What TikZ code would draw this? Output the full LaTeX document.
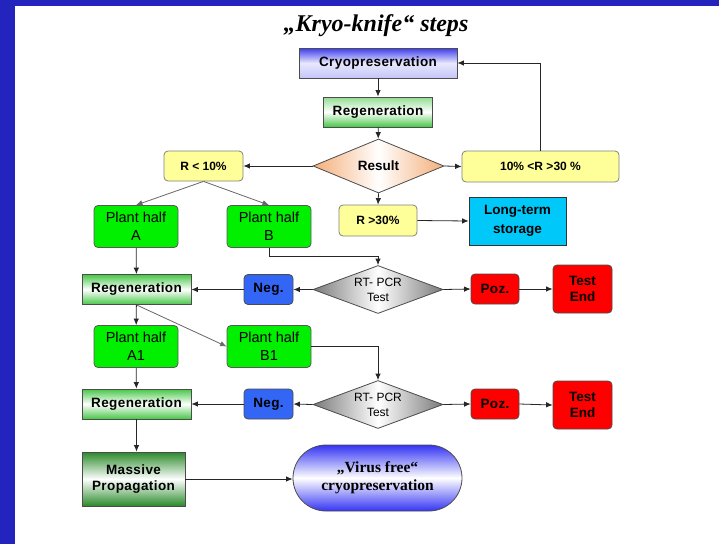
\documentclass[tikz,border=0pt]{standalone}
\usepackage{fontspec}
\setmainfont{Liberation Sans}
\newfontfamily\timesfont{Liberation Serif}
\usepackage{xcolor}
\definecolor{frameblue}{HTML}{2323BE}
\definecolor{cryoblue}{HTML}{3C3CEC}
\definecolor{regengreen}{HTML}{46C646}
\definecolor{massgreen}{HTML}{2A8A2A}
\definecolor{plantgreen}{HTML}{00F000}
\definecolor{ratioyellow}{HTML}{FFFF99}
\definecolor{resultorange}{HTML}{F4AE78}
\definecolor{storagecyan}{HTML}{00C8F8}
\definecolor{negblue}{HTML}{3366F5}
\definecolor{testgray}{HTML}{7A7A7A}
\definecolor{virusblue}{HTML}{3434F4}
\usepackage{tikz}
\usetikzlibrary{positioning, shapes.geometric, arrows.meta}

\tikzset{
  box/.style={draw=black!70, line width=0.8pt, inner sep=1pt, align=center,
    font=\bfseries\fontsize{13.5}{16}\selectfont\addfontfeature{LetterSpace=3}},
  roundbox/.style={box, rounded corners=4pt},
  regen/.style={box, top color=regengreen, bottom color=regengreen, middle color=white,
    minimum width=109pt, minimum height=30pt},
  plant/.style={roundbox, fill=plantgreen, draw=black!65,
    font=\fontsize{14.5}{18}\selectfont, minimum width=84pt, minimum height=42pt},
  ratio/.style={roundbox, fill=ratioyellow, draw=black!50,
    font=\bfseries\fontsize{12}{14}\selectfont, minimum height=30pt},
  test/.style={diamond, draw=black!70, line width=0.8pt, left color=testgray, right color=testgray,
    middle color=white, align=center, font=\fontsize{12}{15}\selectfont, inner sep=0pt,
    aspect=2.7, minimum width=130pt, minimum height=48pt},
  negbox/.style={roundbox, fill=negblue, minimum width=49pt, minimum height=30pt},
  pozbox/.style={roundbox, fill=red, minimum width=48pt, minimum height=30pt},
  endbox/.style={roundbox, fill=red, minimum width=59pt, minimum height=48pt,
    font=\bfseries\fontsize{13.5}{16}\selectfont},
  link/.style={->, draw=black!85, line width=0.8pt},
}

\begin{document}
\begin{tikzpicture}[x=1pt, y=-1pt, >={Latex[length=6.5pt,width=5.5pt]}]
  \useasboundingbox (0,0) rectangle (719,544);
  \fill[frameblue] (0,0) rectangle (719,6);
  \fill[frameblue] (0,0) rectangle (15,544);

  \node[font=\timesfont\bfseries\itshape\fontsize{24}{28}\selectfont] (title) at (376,26) {„Kryo-knife“ steps};

  % top part
  \node[box, top color=cryoblue, bottom color=cryoblue!30, middle color=cryoblue!12,
    minimum width=158pt, minimum height=30pt] (cryo) at (378,63) {Cryopreservation};
  \node[regen, top color=regengreen!60, middle color=white] (regen1) at (378,112) {Regeneration};
  \node[diamond, draw=black!70, line width=0.8pt, left color=resultorange, right color=resultorange,
    middle color=white, inner sep=0pt, aspect=2.4, minimum width=131pt, minimum height=54pt,
    font=\bfseries\fontsize{13.5}{16}\selectfont] (result) at (378.5,166) {Result};
  \node[ratio, minimum width=79pt] (rlow) at (203.5,166) {R < 10\%};
  \node[ratio, minimum width=157pt, minimum height=31pt] (rmid) at (540.5,166.5) {10\% <R >30 \%};
  \node[ratio, minimum width=78pt, minimum height=31pt] (rhigh) at (378,220.5) {R >30\%};
  \node[box, fill=storagecyan, draw=black!80, minimum width=97pt, minimum height=48pt,
    font=\bfseries\fontsize{13.5}{19}\selectfont] (storage) at (517.5,221) {Long-term\\storage};

  % first test
  \node[plant] (halfA) at (136,226.5) {Plant half\\A};
  \node[plant] (halfB) at (269,226.5) {Plant half\\B};
  \node[regen] (regen2) at (136.5,289.5) {Regeneration};
  \node[negbox] (neg1) at (268.5,289.5) {Neg.};
  \node[test] (pcr1) at (378,289.5) {RT- PCR\\Test};
  \node[pozbox] (poz1) at (495,289) {Poz.};
  \node[endbox] (end1) at (582.5,289) {Test\\End};

  % second test
  \node[plant] (halfA1) at (136,346.5) {Plant half\\A1};
  \node[plant] (halfB1) at (269,346.5) {Plant half\\B1};
  \node[regen] (regen3) at (136.5,404) {Regeneration};
  \node[negbox] (neg2) at (268.5,404) {Neg.};
  \node[test] (pcr2) at (378,404.5) {RT- PCR\\Test};
  \node[pozbox] (poz2) at (495,404) {Poz.};
  \node[endbox] (end2) at (582.5,405) {Test\\End};

  % end
  \node[box, top color=massgreen, bottom color=massgreen, middle color=white,
    minimum width=103pt, minimum height=54pt] (mass) at (133.5,479) {Massive\\Propagation};
  \node[box, rounded corners=33pt, top color=virusblue, bottom color=virusblue, middle color=white,
    minimum width=169pt, minimum height=66pt,
    font=\timesfont\bfseries\fontsize{15.5}{18}\selectfont] (virus) at (377.5,478) {„Virus free“\\cryopreservation};

  \draw[link] (cryo) -- (regen1);
  \draw[link] (regen1) -- (result);
  \draw[link] (result.west) -- (rlow.east);
  \draw[link] (result.east) -- (rmid.west);
  \draw[link] (result.south) -- (rhigh.north);
  \draw[link] (rhigh.east) -- (storage.west);
  \draw[link] (rmid.north) |- (cryo.east);
  \draw[link, draw=black!60] (rlow.south) -- (halfA.north);
  \draw[link, draw=black!60] (rlow.south) -- (halfB.north);
  \draw[link] (halfA) -- (regen2);
  \draw[link] (halfB.south) -- ++(0,8) -| (pcr1.north);
  \draw[link] (pcr1.west) -- (neg1.east);
  \draw[link] (neg1.west) -- (regen2.east);
  \draw[link] (pcr1.east) -- (poz1.west);
  \draw[link] (poz1.east) -- (end1.west);
  \draw[link] (regen2) -- (halfA1);
  \draw[link, draw=black!60] (regen2.south) -- (halfB1.west);
  \draw[link] (halfB1.east) -| (pcr2.north);
  \draw[link] (halfA1) -- (regen3);
  \draw[link] (pcr2.west) -- (neg2.east);
  \draw[link] (neg2.west) -- (regen3.east);
  \draw[link] (pcr2.east) -- (poz2.west);
  \draw[link] (poz2.east) -- (end2.west);
  \draw[link] (regen3.south) -- (regen3.south |- mass.north);
  \draw[link] (mass.east) -- (mass.east -| virus.west);
\end{tikzpicture}
\end{document}
